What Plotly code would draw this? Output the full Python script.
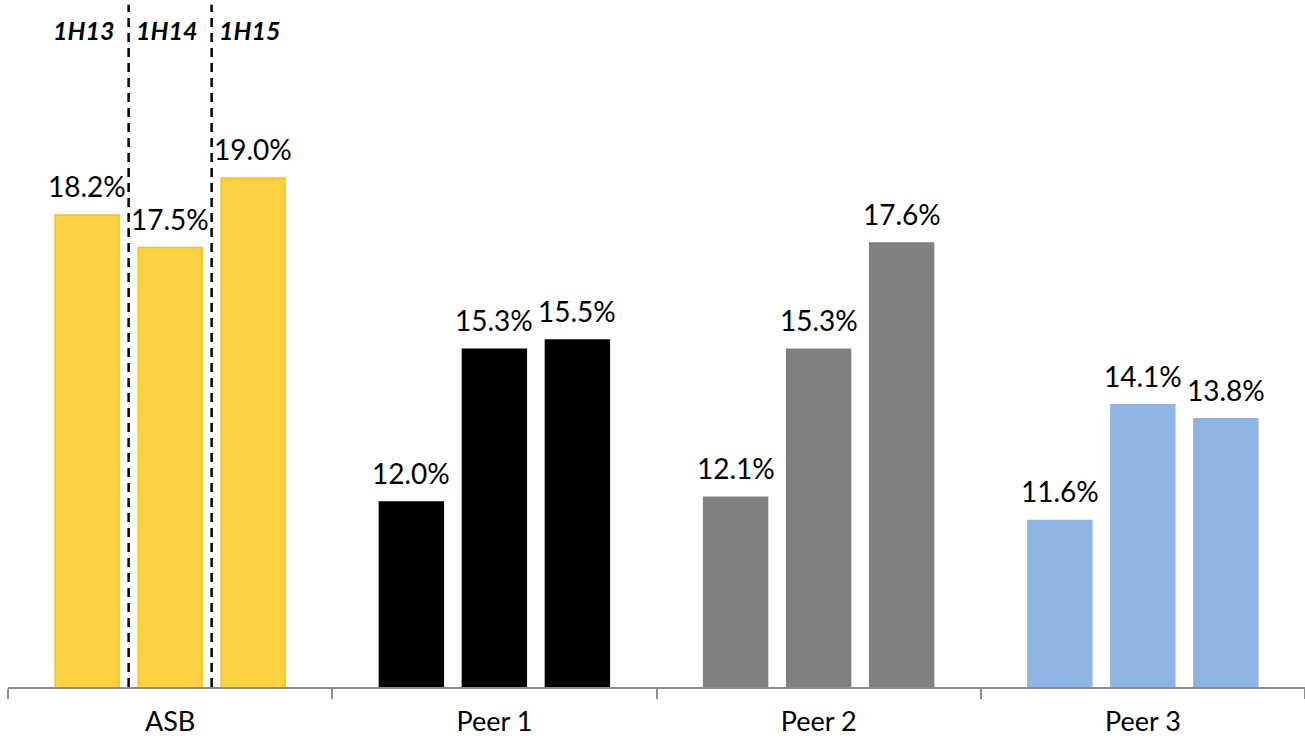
import plotly.graph_objects as go

# Return on equity by half-year, bank vs. peers
categories = ["ASB", "Peer 1", "Peer 2", "Peer 3"]
periods = ["1H13", "1H14", "1H15"]
roe_1h13 = [18.2, 12.0, 12.1, 11.6]
roe_1h14 = [17.5, 15.3, 15.3, 14.1]
roe_1h15 = [19.0, 15.5, 17.6, 13.8]
series = [roe_1h13, roe_1h14, roe_1h15]

fill_colors = ["#FFD243", "#000000", "#808080", "#8EB4E3"]
edge_colors = ["#FFC000", "#000000", "#808080", "#8EB4E3"]

FONT = "Lato, 'Open Sans', sans-serif"
BARGAP = 0.232
BARGROUPGAP = 0.23
slot = (1 - BARGAP) / len(periods)

fig = go.Figure()
for name, vals in zip(periods, series):
    fig.add_trace(go.Bar(
        x=categories, y=vals, name=name,
        marker=dict(color=fill_colors,
                    line=dict(color=edge_colors, width=1.5)),
        hoverinfo="skip",
    ))

# value labels above each bar
annotations = []
for i, vals in enumerate(series):
    offset = (i - (len(periods) - 1) / 2) * slot
    for j, v in enumerate(vals):
        annotations.append(dict(
            x=j + offset, y=v, xref="x", yref="y",
            text=f"{v:.1f}%", showarrow=False,
            yanchor="bottom", xanchor="center", yshift=10,
            font=dict(family=FONT, size=28, color="#000000"),
        ))

# period headers over the ASB group
for i, p in enumerate(periods):
    offset = (i - (len(periods) - 1) / 2) * slot
    annotations.append(dict(
        x=offset, y=1, xref="x", yref="paper",
        text=f"<b><i>{p}</i></b>", showarrow=False,
        yanchor="top", xanchor="center", yshift=-13, xshift=-4,
        font=dict(family=FONT, size=25, color="#000000"),
    ))

# dashed separators between the ASB periods
shapes = []
for k in range(1, len(periods)):
    xs = (k - len(periods) / 2) * slot
    shapes.append(dict(
        type="line", xref="x", yref="paper",
        x0=xs, x1=xs, y0=0, y1=0.993,
        line=dict(color="#000000", width=2.5, dash="9px,6px"),
    ))

fig.update_layout(
    width=1305, height=740,
    margin=dict(l=8, r=0, t=0, b=53),
    paper_bgcolor="white", plot_bgcolor="white",
    barmode="group", bargap=BARGAP, bargroupgap=BARGROUPGAP,
    showlegend=False,
    annotations=annotations, shapes=shapes,
    font=dict(family=FONT, color="#000000"),
)
fig.update_xaxes(
    type="category",
    showline=True, linecolor="#8C8C8C", linewidth=1.5,
    ticks="outside", tickson="boundaries", ticklen=10,
    tickcolor="#8C8C8C", tickwidth=1.5,
    ticklabelstandoff=10,
    tickfont=dict(family=FONT, size=27, color="#000000"),
    showgrid=False, zeroline=False,
)
fig.update_yaxes(
    range=[8, 22.85], visible=False, showgrid=False, zeroline=False,
)

fig.write_html("out.html")
